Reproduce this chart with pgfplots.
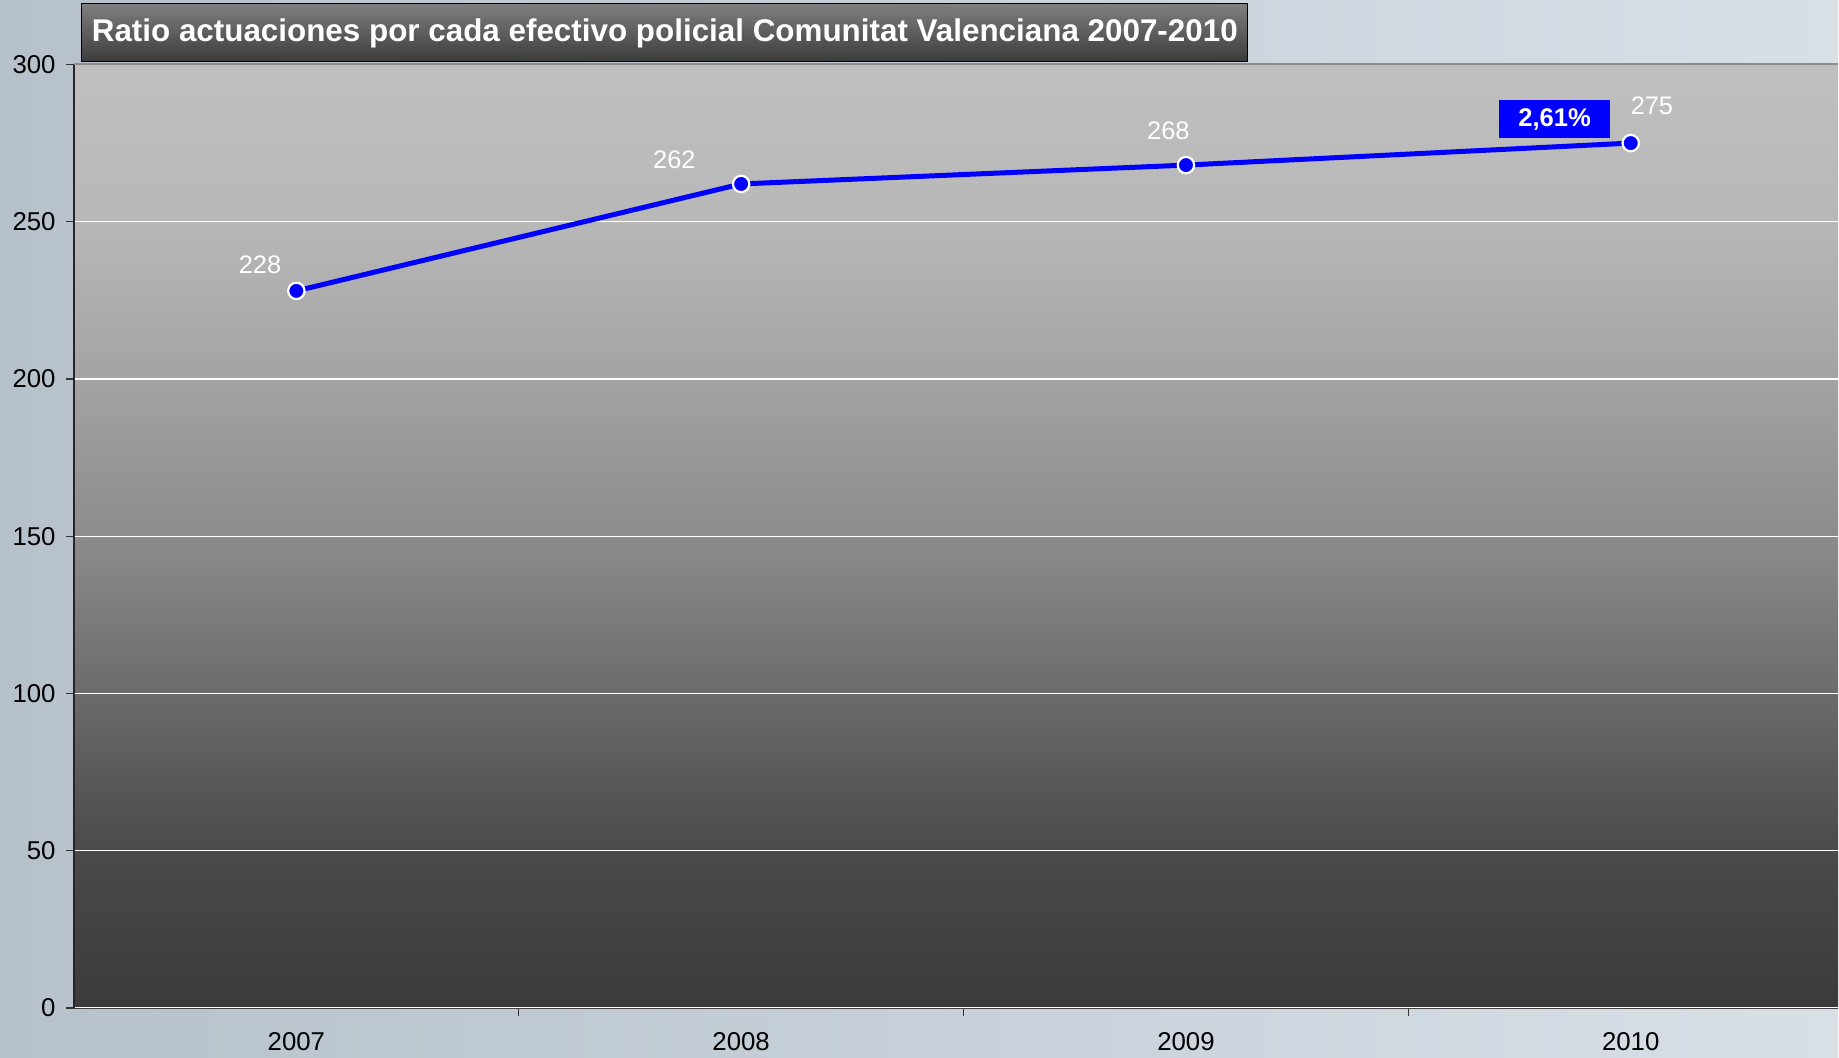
\documentclass[border=0pt]{standalone}
\usepackage{pgfplots}
\pgfplotsset{compat=1.18}
\usepackage{fontspec}
\setmainfont{Liberation Sans}

\definecolor{bgleft}{HTML}{B6C1CB}
\definecolor{bgright}{HTML}{D8DFE7}
\definecolor{serie}{HTML}{0000FF}

% fondo del area de trazado (claro arriba, oscuro abajo)
% tikz ajusta la zona 25bp-75bp de la sombra al trazo
\pgfdeclareverticalshading{plotbg}{100bp}{
  color(0bp)=(black!77);
  color(25bp)=(black!77);
  color(33.35bp)=(black!71);
  color(41.65bp)=(black!58);
  color(50bp)=(black!45);
  color(58.35bp)=(black!36);
  color(66.65bp)=(black!28);
  color(75bp)=(black!25);
  color(100bp)=(black!25)}

\pgfplotstableread{
x  y    dx     dy
0  228  -18.2  12.9
1  262  -33.4  12.3
2  268  -8.8   17.0
3  275  10.6   18.8
}\ratio

\begin{document}
\begin{tikzpicture}
  % fondo exterior
  \shade[left color=bgleft, right color=bgright] (-37pt,-24.7pt) rectangle (882.5pt,504.25pt);
  \begin{axis}[
      at={(0,0)}, anchor=south west,
      scale only axis, width=882.5pt, height=472pt,
      xmin=-0.5, xmax=3.466, ymin=0, ymax=300,
      axis background/.style={shading=plotbg},
      xtick={0,1,2,3}, xticklabels={2007,2008,2009,2010},
      major x tick style={draw=none},
      minor xtick={0.5,1.5,2.5},
      ytick={0,50,...,300},
      tick align=outside, tick pos=left,
      major tick length=4pt, minor tick length=4pt,
      tick style={black!80, line width=0.6pt},
      ymajorgrids, grid style={white, line width=0.6pt},
      axis x line*=bottom, axis y line*=left,
      x axis line style={draw=black!75},
      y axis line style={draw=black!85, line width=0.7pt},
      ticklabel style={font=\fontsize{12.9}{15}\selectfont, text=black},
      xticklabel style={anchor=center, yshift=-13pt},
      yticklabel style={anchor=east, inner sep=0pt, xshift=-5pt},
      /pgf/number format/assume math mode=true,
      clip=false,
    ]
    \draw[black!45, line width=1pt] (rel axis cs:0,1) -- (rel axis cs:1,1);
    \addplot[serie, line width=2.5pt,
        mark=*, mark size=4.1pt,
        mark options={fill=serie, draw=white, line width=1.1pt},
        nodes near coords,
        visualization depends on={\thisrow{dx}\as\dx},
        visualization depends on={\thisrow{dy}\as\dy},
        every node near coord/.append style={anchor=center, text=white,
          font=\fontsize{12.7}{15}\selectfont, xshift=\dx pt, yshift=\dy pt,
          /pgf/number format/assume math mode=true},
      ] table[x=x, y=y] {\ratio};
    \node[fill=serie, text=white, font=\bfseries\fontsize{12.8}{15}\selectfont,
          minimum width=55.5pt, minimum height=19pt, inner sep=0pt]
      at (axis cs:3,275) [xshift=-38.1pt, yshift=12pt] {2,61\%};
  \end{axis}
  % titulo
  \shade[top color=black!50, bottom color=black!77, draw=black, line width=0.5pt]
    (4pt,473.25pt) rectangle (587pt,502.5pt);
  \node[anchor=west, text=white, font=\bfseries\fontsize{15.7}{18}\selectfont, inner sep=0pt]
    at (8.75pt,487.6pt) {Ratio actuaciones por cada efectivo policial Comunitat Valenciana 2007-2010};
  \useasboundingbox (-37pt,-24.7pt) rectangle (882.5pt,504.25pt);
\end{tikzpicture}
\end{document}
